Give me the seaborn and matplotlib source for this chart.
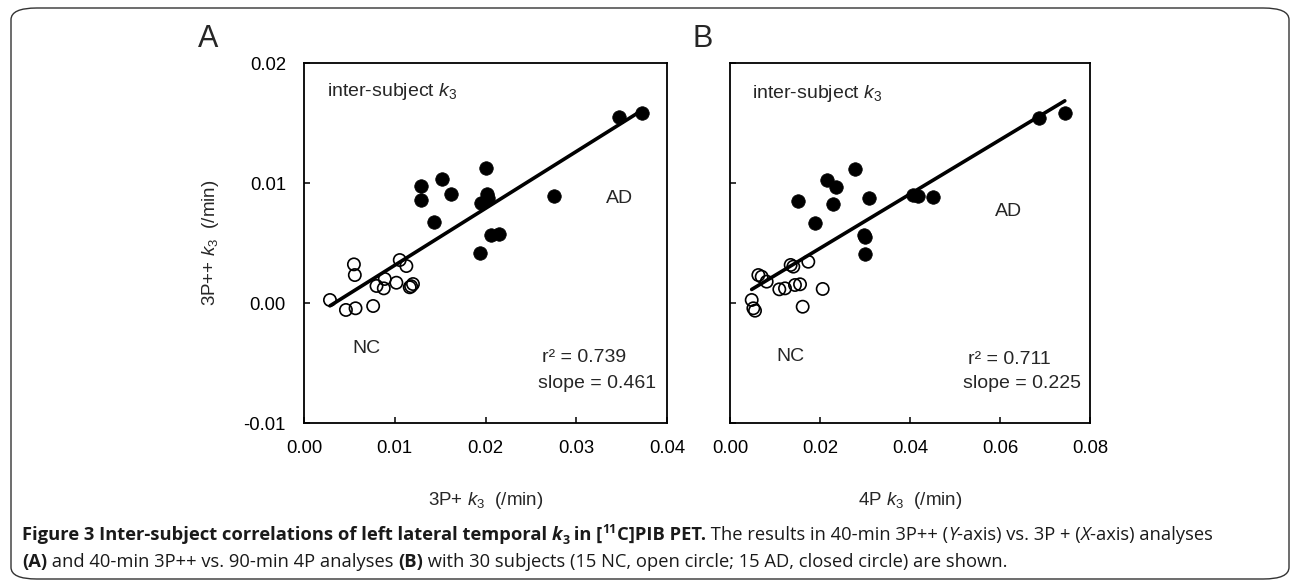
import numpy as np
import pandas as pd
import seaborn as sns
import matplotlib
matplotlib.use("Agg")
import matplotlib.pyplot as plt
from matplotlib.patches import FancyBboxPatch

# ---------------- data ----------------
# Panel A: x = 3P+ k3, y = 3P++ k3
a_nc_x = [0.00286, 0.00462, 0.00568, 0.00762, 0.00550, 0.00560, 0.00799, 0.00890,
          0.00879, 0.01018, 0.01055, 0.01128, 0.01165, 0.01201, 0.01180]
a_nc_y = [0.00025, -0.00058, -0.00044, -0.00025, 0.00322, 0.00233, 0.00142, 0.00200,
          0.00122, 0.00169, 0.00358, 0.00308, 0.00131, 0.00158, 0.00140]
a_ad_x = [0.0347, 0.0372, 0.0200, 0.01524, 0.01293, 0.01293, 0.01623, 0.02015,
          0.02025, 0.01945, 0.0275, 0.01429, 0.0206, 0.02154, 0.01941]
a_ad_y = [0.01553, 0.01586, 0.01122, 0.01033, 0.00975, 0.00858, 0.00908, 0.00908,
          0.00872, 0.00836, 0.00894, 0.00672, 0.00567, 0.00572, 0.00414]

# Panel B: x = 4P k3, y = 3P++ k3
b_nc_x = [0.00482, 0.00519, 0.00556, 0.00630, 0.00704, 0.00815, 0.01096, 0.01222,
          0.01348, 0.01407, 0.01444, 0.01556, 0.01740, 0.02060, 0.01615]
b_nc_y = [0.00025, -0.00044, -0.00064, 0.00233, 0.00219, 0.00178, 0.00114, 0.00122,
          0.00317, 0.00303, 0.00150, 0.00156, 0.00344, 0.00117, -0.00031]
b_ad_x = [0.0687, 0.0744, 0.0278, 0.02163, 0.02356, 0.01518, 0.02282, 0.03089,
          0.0406, 0.0417, 0.04518, 0.01889, 0.02978, 0.0300, 0.0300]
b_ad_y = [0.01539, 0.01581, 0.01117, 0.01025, 0.00964, 0.00853, 0.00825, 0.00872,
          0.00900, 0.00892, 0.00881, 0.00669, 0.00567, 0.00547, 0.00408]

a_xticks = [0.00, 0.01, 0.02, 0.03, 0.04]
a_xticklabels = ["0.00", "0.01", "0.02", "0.03", "0.04"]
b_xticks = [0.00, 0.02, 0.04, 0.06, 0.08]
b_xticklabels = ["0.00", "0.02", "0.04", "0.06", "0.08"]
yticks = [-0.01, 0.00, 0.01, 0.02]
yticklabels = ["-0.01", "0.00", "0.01", "0.02"]

a_stats = ["r² = 0.739", "slope = 0.461"]
b_stats = ["r² = 0.711", "slope = 0.225"]

# ---------------- style ----------------
sns.set_style("white")
plt.rcParams["font.family"] = ["Liberation Sans", "DejaVu Sans"]
plt.rcParams["mathtext.fontset"] = "custom"
plt.rcParams["mathtext.rm"] = "Liberation Sans"
plt.rcParams["mathtext.it"] = "Liberation Sans:italic"
plt.rcParams["mathtext.bf"] = "Liberation Sans:bold"

W, H = 1292, 583
fig = plt.figure(figsize=(W / 100, H / 100), dpi=100)
fig.patch.set_facecolor("white")


def px_axes(l, r, t, b):
    return fig.add_axes([l / W, 1 - b / H, (r - l) / W, (b - t) / H])


def panel(ax, nc_x, nc_y, ad_x, ad_y, xlim, xticks, xticklabels, show_ylabels):
    allx = np.array(nc_x + ad_x)
    ally = np.array(nc_y + ad_y)
    df = pd.DataFrame({"x": allx, "y": ally})
    sns.regplot(data=df, x="x", y="y", ax=ax, scatter=False, ci=None,
                truncate=True, line_kws=dict(color="black", lw=2.6, zorder=2))
    sns.scatterplot(x=nc_x, y=nc_y, ax=ax, s=78, facecolor="none",
                    edgecolor="black", linewidth=1.2, zorder=3)
    sns.scatterplot(x=ad_x, y=ad_y, ax=ax, s=95, color="black",
                    edgecolor="black", linewidth=0.5, zorder=4)
    ax.set_xlim(*xlim)
    ax.set_ylim(-0.01, 0.02)
    ax.set_xticks(xticks)
    ax.set_xticklabels(xticklabels)
    ax.set_yticks(yticks)
    if show_ylabels:
        ax.set_yticklabels(yticklabels)
    else:
        ax.set_yticklabels([])
    ax.tick_params(axis="both", direction="in", length=4, width=1.1,
                   labelsize=13.3, colors="black", bottom=True, left=True,
                   top=False, right=False)
    ax.tick_params(axis="x", pad=12)
    ax.tick_params(axis="y", pad=13)
    for sp in ax.spines.values():
        sp.set_visible(True)
        sp.set_color("black")
        sp.set_linewidth(1.3)
    ax.set_xlabel("")
    ax.set_ylabel("")


axA = px_axes(304, 667, 63, 423)
axB = px_axes(730, 1090, 63, 423)

panel(axA, a_nc_x, a_nc_y, a_ad_x, a_ad_y, (0.0, 0.04), a_xticks, a_xticklabels, True)
panel(axB, b_nc_x, b_nc_y, b_ad_x, b_ad_y, (0.0, 0.08), b_xticks, b_xticklabels, False)

axA.set_xlabel("3P+ $k_3$  (/min)", fontsize=13.5, labelpad=24)
axB.set_xlabel("4P $k_3$  (/min)", fontsize=13.5, labelpad=24)
axA.set_ylabel("3P++ $k_3$  (/min)", fontsize=13.5, labelpad=16)

fs = 14
# Panel A annotations
axA.text(0.0025, 0.0176, "inter-subject $k_3$", fontsize=fs, va="center", ha="left")
axA.text(0.0333, 0.00867, "AD", fontsize=fs, va="center", ha="left")
axA.text(0.00535, -0.00383, "NC", fontsize=fs, va="center", ha="left")
axA.text(0.0262, -0.00458, a_stats[0], fontsize=fs, va="center", ha="left")
axA.text(0.02575, -0.00675, a_stats[1], fontsize=fs, va="center", ha="left")
# Panel B annotations
axB.text(0.00482, 0.0175, "inter-subject $k_3$", fontsize=fs, va="center", ha="left")
axB.text(0.0589, 0.00761, "AD", fontsize=fs, va="center", ha="left")
axB.text(0.01037, -0.00447, "NC", fontsize=fs, va="center", ha="left")
axB.text(0.0528, -0.0047, b_stats[0], fontsize=fs, va="center", ha="left")
axB.text(0.0517, -0.00675, b_stats[1], fontsize=fs, va="center", ha="left")

# Panel letters
fig.text(208 / W, 1 - 39 / H, "A", fontsize=22, ha="center", va="center")
fig.text(703 / W, 1 - 39 / H, "B", fontsize=22, ha="center", va="center")

# Border
border = FancyBboxPatch((11 / W, 1 - 579 / H), (1289 - 11) / W, (579 - 8) / H,
                        boxstyle="round,pad=0,rounding_size=0.02",
                        transform=fig.transFigure, fill=False,
                        edgecolor="#333333", linewidth=1.0)
fig.patches.append(border)

# Caption with mixed styles
renderer = fig.canvas.get_renderer()
cap_fs = 13.2
cap_font = ["Open Sans", "DejaVu Sans"]


def piece_width(s, **kw):
    t1 = fig.text(0, 0, s + "|", fontsize=kw.get("size", cap_fs), family=cap_font,
                  weight=kw.get("weight", "normal"), style=kw.get("style", "normal"))
    t2 = fig.text(0, 0, "|", fontsize=kw.get("size", cap_fs), family=cap_font,
                  weight=kw.get("weight", "normal"), style=kw.get("style", "normal"))
    w = t1.get_window_extent(renderer).width - t2.get_window_extent(renderer).width
    t1.remove()
    t2.remove()
    return w


def draw_line(pieces, x0, y0):
    x = x0
    for p in pieces:
        s = p[0]
        kw = p[1] if len(p) > 1 else {}
        size = kw.get("size", cap_fs)
        dy = kw.get("dy", 0)
        fig.text(x / W, 1 - (y0 - dy) / H, s, fontsize=size, family=cap_font,
                 weight=kw.get("weight", "normal"), style=kw.get("style", "normal"),
                 ha="left", va="baseline", color="#1a1a1a")
        x += piece_width(s, **kw)


B_ = {"weight": "bold"}
line1 = [
    ("Figure 3 Inter-subject correlations of left lateral temporal ", B_),
    ("k", {"weight": "bold", "style": "italic"}),
    ("3", {"weight": "bold", "size": 9, "dy": -4}),
    (" in [", B_),
    ("11", {"weight": "bold", "size": 9, "dy": 7}),
    ("C]PIB PET.", B_),
    (" The results in 40-min 3P++ (", {}),
    ("Y", {"style": "italic"}),
    ("-axis) vs. 3P + (", {}),
    ("X", {"style": "italic"}),
    ("-axis) analyses", {}),
]
line2 = [
    ("(A)", B_),
    (" and 40-min 3P++ vs. 90-min 4P analyses ", {}),
    ("(B)", B_),
    (" with 30 subjects (15 NC, open circle; 15 AD, closed circle) are shown.", {}),
]
draw_line(line1, 22, 540)
draw_line(line2, 22, 567)

fig.savefig("out.png", dpi=100, facecolor="white")
